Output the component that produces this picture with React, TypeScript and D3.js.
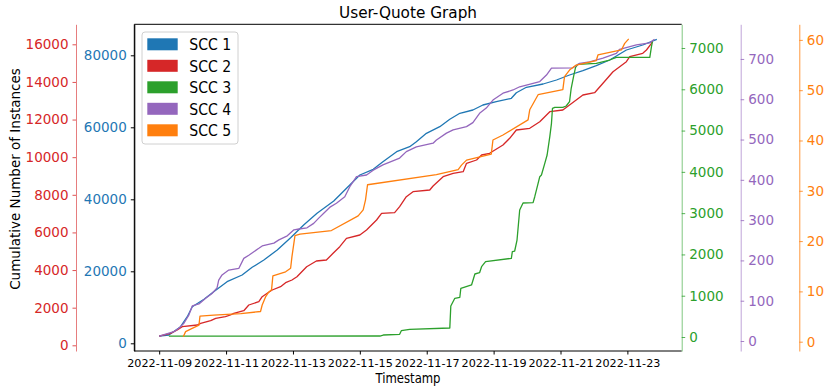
import { useEffect, useRef } from "react";
import * as d3 from "d3";

// days since 2022-11-09 00:00, cumulative count
const scc1: [number, number][] = [
  [0, 1990], [0.29, 2306], [0.64, 4611], [0.84, 7389], [0.99, 10167], [1.34, 12222],
  [1.63, 14333], [2.03, 17111], [2.48, 18972], [2.78, 21111], [3.13, 23139], [3.53, 25917],
  [3.93, 29333], [4.32, 32861], [4.72, 36111], [5.22, 39528], [5.4, 41194], [5.7, 43972],
  [6.0, 46750], [6.4, 48333], [6.69, 50444], [7.1, 53222], [7.49, 54611], [7.69, 56000],
  [7.99, 58333], [8.39, 60167], [8.69, 62222], [8.99, 63889], [9.38, 64806], [9.68, 66194],
  [10.08, 67111], [10.53, 68056], [10.68, 69611], [10.98, 71111], [11.48, 72028],
  [11.88, 73139], [12.27, 74528], [12.67, 75722], [13.07, 77111], [13.47, 78694],
  [13.72, 80083], [13.97, 81472], [14.46, 82861], [14.88, 84444],
];

const scc2: [number, number][] = [
  [0, 486], [0.34, 638], [0.54, 813], [0.69, 989], [1.14, 1079], [1.24, 1169], [1.54, 1308],
  [1.69, 1435], [1.98, 1520], [2.13, 1611], [2.23, 1701], [2.53, 1839], [2.68, 2142],
  [2.98, 2318], [3.08, 2583], [3.23, 2764], [3.38, 2939], [3.63, 3115], [3.78, 3328],
  [3.97, 3471], [4.12, 3646], [4.41, 4178], [4.7, 4481], [5.0, 4534], [5.2, 4890],
  [5.4, 5241], [5.6, 5688], [6.0, 5863], [6.2, 6129], [6.5, 6661], [6.65, 7016], [7.04, 7048],
  [7.19, 7367], [7.39, 7899], [7.59, 8165], [8.09, 8255], [8.19, 8468], [8.49, 8962],
  [8.79, 9143], [9.09, 9228], [9.19, 9674], [9.49, 9850], [9.64, 10116], [9.88, 10206],
  [10.28, 10647], [10.48, 11003], [10.68, 11444], [11.08, 11535], [11.38, 11885],
  [11.68, 12417], [12.07, 12507], [12.27, 12773], [12.67, 13305], [13.02, 13427],
  [13.27, 13927], [13.57, 14543], [13.97, 15075], [14.07, 15340], [14.46, 15521],
  [14.57, 15697], [14.72, 16053], [14.75, 16150],
];

const scc3: [number, number][] = [
  [0.29, 20], [6.6, 24], [6.7, 48], [7.19, 65], [7.24, 153], [7.49, 187], [8.69, 218],
  [8.72, 751], [8.84, 937], [8.99, 962], [9.02, 1180], [9.34, 1260], [9.44, 1526],
  [9.58, 1557], [9.64, 1703], [9.76, 1824], [10.53, 1906], [10.56, 2066], [10.63, 2083],
  [10.7, 2349], [10.74, 2713], [10.78, 3076], [10.88, 3246], [11.18, 3253], [11.23, 3398],
  [11.33, 3723], [11.38, 3883], [11.43, 3924], [11.53, 4207], [11.6, 4408], [11.68, 4852],
  [11.73, 5176], [11.76, 5539], [11.83, 5564], [12.07, 5564], [12.17, 5595], [12.27, 5699],
  [12.32, 6024], [12.39, 6305], [12.45, 6532], [12.52, 6605], [13.07, 6629], [13.47, 6709],
  [13.67, 6775], [14.67, 6775], [14.72, 7031], [14.75, 7160],
];

const scc4: [number, number][] = [
  [0, 12], [0.44, 23], [0.59, 32], [0.74, 44], [0.89, 65], [0.99, 87], [1.19, 92],
  [1.39, 106], [1.58, 118], [1.73, 132], [1.78, 151], [1.88, 164], [2.08, 176], [2.38, 180],
  [2.53, 205], [2.68, 213], [2.98, 230], [3.08, 236], [3.43, 243], [3.58, 251], [3.83, 261],
  [4.03, 276], [4.18, 278], [4.42, 281], [4.62, 292], [4.77, 305], [4.92, 317], [5.12, 333],
  [5.3, 342], [5.55, 358], [5.7, 383], [5.9, 408], [6.2, 412], [6.4, 424], [6.69, 437],
  [7.19, 454], [7.39, 470], [7.69, 482], [8.19, 491], [8.29, 499], [8.59, 516], [8.79, 524],
  [9.19, 532], [9.38, 542], [9.58, 565], [9.78, 578], [9.98, 598], [10.28, 615], [10.58, 623],
  [10.78, 631], [11.38, 644], [11.58, 660], [11.73, 677], [12.37, 678], [12.57, 689],
  [12.87, 693], [13.27, 702], [13.67, 714], [13.77, 724], [14.27, 735], [14.67, 740],
  [14.81, 749],
];

const scc5: [number, number][] = [
  [0.72, 1], [0.79, 2], [0.94, 2.5], [1.19, 3.3], [1.22, 5.1], [1.63, 5.3], [2.44, 5.6],
  [3.03, 6], [3.08, 7.3], [3.18, 8.9], [3.28, 9.9], [3.36, 10.3], [3.4, 13.1], [3.78, 13.9],
  [3.93, 14.6], [3.97, 16.9], [4.06, 21.1], [4.21, 21.4], [5.15, 22.1], [5.95, 25],
  [6.1, 26.2], [6.17, 28.2], [6.23, 31.2], [8.29, 33.2], [8.94, 34.2], [9.04, 35.1],
  [9.19, 36.1], [9.93, 37.3], [9.98, 40.1], [10.28, 41.1], [11.03, 44.1], [11.08, 46.1],
  [11.33, 49.1], [12.07, 50.1], [12.12, 52.7], [12.27, 54], [12.47, 55], [13.07, 55.9],
  [13.12, 57], [13.82, 58], [13.92, 59.3], [14.04, 60.2],
];

const seriesNames = ["SCC 1", "SCC 2", "SCC 3", "SCC 4", "SCC 5"];
const seriesColors = ["#1f77b4", "#d62728", "#2ca02c", "#9467bd", "#ff7f0e"];
const seriesData = [scc1, scc2, scc3, scc4, scc5];

// y range of each twin axis
const yDomains: [number, number][] = [
  [-2139, 88611],
  [-303, 17063],
  [-339, 7574],
  [-24.8, 786],
  [-1.85, 63.1],
];

const blueTicks = [0, 20000, 40000, 60000, 80000];
const redTicks = [0, 2000, 4000, 6000, 8000, 10000, 12000, 14000, 16000];
const greenTicks = [0, 1000, 2000, 3000, 4000, 5000, 6000, 7000];
const purpleTicks = [0, 100, 200, 300, 400, 500, 600, 700];
const orangeTicks = [0, 10, 20, 30, 40, 50, 60];

const xTickLabels = [
  "2022-11-09", "2022-11-11", "2022-11-13", "2022-11-15",
  "2022-11-17", "2022-11-19", "2022-11-21", "2022-11-23",
];

const START = new Date(2022, 10, 9).getTime();
const toDate = (d: number) => new Date(START + d * 864e5);

const FONT = "DejaVu Sans, sans-serif";

export default function App() {
  const ref = useRef<SVGSVGElement>(null);

  useEffect(() => {
    draw();
  }, []);

  function draw() {
    const svg = d3.select(ref.current);
    svg.selectAll("*").remove();

    const left = 134.3, right = 681.7, top = 24.3, bottom = 351;

    const allDays = seriesData.flat().map(p => p[0]);
    const [d0, d1] = d3.extent(allDays) as [number, number];
    const pad = (d1 - d0) * 0.05;
    const x = d3.scaleTime()
      .domain([toDate(d0 - pad), toDate(d1 + pad)])
      .range([left, right]);

    const ys = yDomains.map(dom => d3.scaleLinear().domain(dom).range([bottom, top]));

    // lines
    seriesData.forEach((data, i) => {
      const line = d3.line<[number, number]>()
        .x(d => x(toDate(d[0])))
        .y(d => ys[i](d[1]));
      svg.append("path")
        .datum(data)
        .attr("d", line)
        .attr("fill", "none")
        .attr("stroke", seriesColors[i])
        .attr("stroke-width", 1.3)
        .attr("stroke-linejoin", "round");
    });

    // frame
    svg.append("path")
      .attr("d", `M${left},${bottom}V${top}H${right}M${left},${bottom}H${right}`)
      .attr("fill", "none")
      .attr("stroke", "#000")
      .attr("stroke-width", 1);

    // y axes
    const axes = [
      { idx: 0, pos: left, side: "left", ticks: blueTicks, tickColor: "#000", spine: "#000", spineOpacity: 1 },
      { idx: 1, pos: 76, side: "left", ticks: redTicks, tickColor: seriesColors[1], spine: seriesColors[1], spineOpacity: 0.6 },
      { idx: 2, pos: right, side: "right", ticks: greenTicks, tickColor: seriesColors[2], spine: seriesColors[2], spineOpacity: 0.6 },
      { idx: 3, pos: 740.7, side: "right", ticks: purpleTicks, tickColor: seriesColors[3], spine: seriesColors[3], spineOpacity: 0.6 },
      { idx: 4, pos: 799.3, side: "right", ticks: orangeTicks, tickColor: seriesColors[4], spine: seriesColors[4], spineOpacity: 0.8 },
    ];

    axes.forEach(a => {
      const gen = (a.side === "left" ? d3.axisLeft(ys[a.idx]) : d3.axisRight(ys[a.idx]))
        .tickValues(a.ticks)
        .tickFormat(d3.format("d"))
        .tickSize(3.5)
        .tickSizeOuter(0)
        .tickPadding(4);
      const g = svg.append("g")
        .attr("transform", `translate(${a.pos},0)`)
        .call(gen);
      g.attr("font-family", FONT).attr("font-size", 13.5);
      g.select(".domain")
        .attr("stroke", a.spine)
        .attr("stroke-opacity", a.spineOpacity);
      g.selectAll(".tick line").attr("stroke", a.tickColor).attr("stroke-opacity", a.idx === 0 ? 1 : 0.8);
      g.selectAll(".tick text").attr("fill", seriesColors[a.idx]);
    });

    // x axis
    const xAxis = d3.axisBottom(x)
      .tickValues(xTickLabels.map(s => d3.timeParse("%Y-%m-%d")(s) as Date))
      .tickFormat(d3.timeFormat("%Y-%m-%d") as any)
      .tickSize(3.5)
      .tickSizeOuter(0)
      .tickPadding(4.2);
    const gx = svg.append("g")
      .attr("transform", `translate(0,${bottom})`)
      .call(xAxis);
    gx.attr("font-family", FONT).attr("font-size", 11.2);
    gx.select(".domain").remove();
    gx.selectAll(".tick text").attr("fill", "#000");

    // titles
    svg.append("text")
      .attr("x", (left + right) / 2)
      .attr("y", 18.3)
      .attr("text-anchor", "middle")
      .attr("font-family", FONT)
      .attr("font-size", 16)
      .attr("textLength", 138)
      .attr("lengthAdjust", "spacingAndGlyphs")
      .text("User-Quote Graph");

    svg.append("text")
      .attr("x", (left + right) / 2)
      .attr("y", 382.7)
      .attr("text-anchor", "middle")
      .attr("font-family", FONT)
      .attr("font-size", 13.5)
      .attr("textLength", 65)
      .attr("lengthAdjust", "spacingAndGlyphs")
      .text("Timestamp");

    svg.append("text")
      .attr("transform", `translate(19.5,179) rotate(-90)`)
      .attr("text-anchor", "middle")
      .attr("font-family", FONT)
      .attr("font-size", 13.5)
      .text("Cumulative Number of Instances");

    // legend
    const lg = svg.append("g");
    lg.append("rect")
      .attr("x", 142).attr("y", 32).attr("width", 96).attr("height", 112)
      .attr("rx", 3)
      .attr("fill", "#fff").attr("fill-opacity", 0.8)
      .attr("stroke", "#d0d0d0");
    seriesNames.forEach((name, i) => {
      const cy = 44.3 + i * 21.5;
      lg.append("rect")
        .attr("x", 147.3).attr("y", cy - 6).attr("width", 30.4).attr("height", 12)
        .attr("fill", seriesColors[i]);
      lg.append("text")
        .attr("x", 189.3).attr("y", cy + 5.7)
        .attr("font-family", FONT)
        .attr("font-size", 15.5)
        .attr("textLength", 42)
        .attr("lengthAdjust", "spacingAndGlyphs")
        .text(name);
    });
  }

  return (
    <div style={{ position: "absolute", left: 0, top: 0 }}>
      <svg ref={ref} width={831} height={392} style={{ display: "block", background: "#fff" }} />
    </div>
  );
}
